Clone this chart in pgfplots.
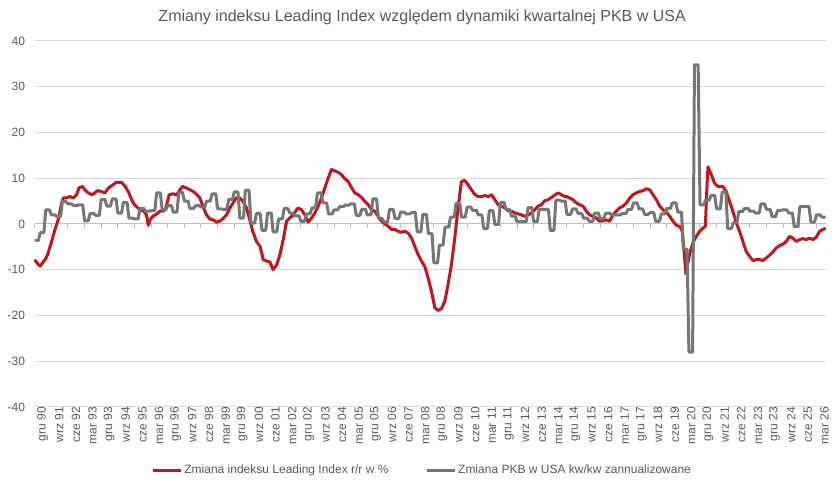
\documentclass[border=0pt]{standalone}
\usepackage{fontspec}
\setmainfont{Liberation Sans}
\usepackage{pgfplots}
\pgfplotsset{compat=1.18}
\definecolor{redline}{RGB}{192,22,28}
\definecolor{grayline}{RGB}{118,118,118}
\definecolor{txt}{RGB}{89,89,89}
\definecolor{gridc}{RGB}{217,217,217}
\definecolor{zeroc}{RGB}{191,191,191}

\pgfplotstableread{
m v
0 -7.8
2 -8.9
3 -9.2
5 -8.1
6 -7.6
7 -6.7
9 -4.1
11 -1.2
13 1.3
14.6 4.6
15.5 5.7
17 5.7
19 6.0
21 5.7
22.7 6.4
24 7.9
26 8.2
27 7.5
29 6.8
31 6.4
32.6 6.8
34 7.3
36 7.1
38 6.8
40 7.9
42.5 8.6
44 9.1
47 9.1
49 8.2
51 6.8
52.5 5.3
54 4.2
56 3.5
59 2.8
60.5 2.0
61.5 -0.3
62.4 0.9
64 1.7
66 2.2
67.8 2.8
69.6 2.8
71 3.5
72.8 6.4
75 6.6
76.8 6.3
78.6 7.5
80 8.2
82 7.9
84 7.5
85.8 7.1
87.6 6.5
89.4 5.7
91 3.9
93 2.0
94.8 1.1
96.6 0.9
98.4 0.4
100 0.6
102 1.2
103.8 2.0
105.6 3.5
107.4 4.6
109 5.7
111 5.7
112.8 4.9
114.6 3.5
116.4 0.9
118 -1.6
120 -3.8
122 -4.9
123.7 -7.8
125.5 -8.1
127.3 -8.3
129 -10.0
131 -8.9
132.7 -6.7
134.5 -3.4
136.3 0.6
138 1.3
140 2.0
141.7 3.1
142.6 3.5
144.4 3.1
146.2 2.0
148 0.4
149.8 1.3
151.6 2.4
153.4 3.9
155.2 5.7
157 7.9
158.8 10.0
160.6 11.9
162.4 11.6
164.2 11.3
166 10.8
167.8 9.9
169.6 9.3
171.5 7.9
173.2 6.8
175 6.4
176.9 5.8
178.7 4.9
180.5 4.2
182.3 3.1
184 2.8
185.9 1.7
187.7 0.6
189.5 0
191.3 -0.5
193 -1.2
194.9 -1.2
196.7 -1.6
198.5 -1.8
200.3 -1.6
202.1 -2.0
203.9 -3.1
205.7 -4.9
207.5 -6.7
209.3 -8.1
211 -9.2
212.9 -11.8
214.7 -14.7
216.5 -18.3
218.3 -18.9
220.1 -18.5
221.9 -16.9
223.7 -13.2
225.5 -8.9
227.3 -3.1
229.1 3.5
230.9 9.3
232.7 9.5
234.5 8.6
236.3 7.5
238.1 6.5
239.9 6.0
241.8 6.0
243.6 6.2
245.4 6.0
247.2 6.4
249 5.3
250.8 4.2
252.6 3.9
254.4 3.5
256.2 2.9
258 2.8
259.8 2.4
261.6 2.2
263.4 2.0
265.2 1.7
267 2.0
268.8 2.4
270.6 3.1
272.4 3.9
274.2 4.2
276 5.1
277.8 5.3
279.6 5.8
281.4 6.3
283.2 6.8
285 6.4
286.8 6.0
287.7 6.0
289.5 5.7
291.3 5.3
293.1 4.6
294.9 4.2
296.7 3.9
298.5 2.8
300.3 2.0
302.1 1.7
303.9 1.3
305.7 0.6
307.5 0.7
309.3 0.9
311.1 0.6
312.9 2.0
314.7 2.8
316.5 3.5
318.4 3.9
320.2 4.6
322 5.7
323.8 6.4
325.6 6.8
327.4 7.1
329.2 7.3
331 7.7
332.8 7.5
334.6 6.4
336.4 5.3
338.2 3.9
340 3.1
341.8 2.6
343.6 1.7
345.4 0.6
347.2 -0.3
349 -0.5
350.4 -1.6
351.7 -7.4
352.4 -10.9
354.4 -6.5
356.2 -4.1
358 -2.7
359.8 -1.6
361.6 -0.9
362.9 -0.5
363.5 5.7
364.3 12.5
366.1 10.8
367.9 8.9
369.7 8.2
372.4 8.2
374.2 7.1
376 4.9
377.8 2.8
379.7 0.2
381.4 -1.6
383.2 -3.8
385 -6.0
386.9 -7.1
388.7 -8.0
390.5 -7.8
392.3 -7.8
394.1 -8.0
395.9 -7.4
397.7 -6.8
399.5 -6.1
401.3 -5.2
403.1 -4.7
404.9 -4.4
406.7 -3.8
408.5 -2.7
410.3 -3.1
412.1 -3.8
413.9 -3.4
415.7 -3.2
417.5 -3.4
419.3 -3.1
421.1 -3.4
422.9 -2.9
424.7 -1.6
426.5 -1.2
428 -0.9
}\leading

\pgfplotstableread{
m v
0 -3.6
2 -3.6
3 -1.9
5 -1.9
6 3.1
8 3.1
9 2.0
11 2.0
12 1.6
14 1.6
15 4.9
17 4.9
18 4.4
20 4.4
21 4.0
23 4.0
24 4.2
26 4.2
27 0.7
29 0.7
30 2.3
32 2.3
33 1.9
35 1.9
36 5.4
38 5.4
39 3.9
41 3.9
42 5.5
44 5.5
45 2.4
47 2.4
48 4.7
50 4.7
51 1.3
53 1.3
54 1.1
56 1.1
57 3.4
59 3.4
60 2.8
62 2.8
63 2.9
65 2.9
66 6.8
68 6.8
69 3.1
71 3.1
72 4.0
74 4.0
75 2.6
77 2.6
78 6.9
80 6.9
81 5.0
83 5.0
84 3.4
86 3.4
87 4.0
89 4.0
90 3.7
92 3.7
93 5.0
95 5.0
96 6.6
98 6.6
99 3.3
101 3.3
102 3.2
104 3.2
105 5.4
107 5.4
108 7.0
110 7.0
111 1.3
113 1.3
114 7.4
116 7.4
117 0.2
119 0.2
120 2.3
122 2.3
123 -1.4
125 -1.4
126 2.4
128 2.4
129 -1.7
131 -1.7
132 1.1
134 1.1
135 3.4
137 3.4
138 2.4
140 2.4
141 1.8
143 1.8
144 0.6
146 0.6
147 2.2
149 2.2
150 3.5
152 3.5
153 6.8
155 6.8
156 4.6
158 4.6
159 2.2
161 2.2
162 3.1
164 3.1
165 3.8
167 3.8
168 4.1
170 4.1
171 4.4
173 4.4
174 1.9
176 1.9
177 3.2
179 3.2
180 2.0
182 2.0
183 5.5
185 5.5
186 1.2
188 1.2
189 0.4
191 0.4
192 3.2
194 3.2
195 1.2
197 1.2
198 2.6
200 2.6
201 2.2
203 2.2
204 2.5
206 2.5
207 -1.7
209 -1.7
210 2.1
212 2.1
213 -2.1
215 -2.1
216 -8.5
218 -8.5
219 -4.6
221 -4.6
222 -0.7
224 -0.7
225 1.5
227 1.5
228 4.5
230 4.5
231 1.5
233 1.5
234 3.7
236 3.7
237 3.0
239 3.0
240 2.0
242 2.0
243 -1.0
245 -1.0
246 2.9
248 2.9
249 -0.1
251 -0.1
252 4.7
254 4.7
255 3.2
257 3.2
258 1.7
260 1.7
261 0.5
263 0.5
264 0.5
266 0.5
267 3.6
269 3.6
270 0.5
272 0.5
273 3.2
275 3.2
276 3.2
278 3.2
279 -1.4
281 -1.4
282 5.2
284 5.2
285 5.0
287 5.0
288 2.1
290 2.1
291 3.3
293 3.3
294 2.3
296 2.3
297 1.3
299 1.3
300 0.6
302 0.6
303 2.4
305 2.4
306 1.2
308 1.2
309 2.4
311 2.4
312 2.0
314 2.0
315 2.0
317 2.0
318 2.3
320 2.3
321 3.2
323 3.2
324 4.6
326 4.6
327 3.3
329 3.3
330 2.1
332 2.1
333 2.5
335 2.5
336 0.6
338 0.6
339 2.2
341 2.2
342 3.4
344 3.4
345 4.6
347 4.6
348 2.6
350 2.6
351 -5.5
353 -5.5
354 -28.0
356 -28.0
357 34.8
359 34.8
360 4.2
362 4.2
363 5.2
365 5.2
366 6.2
368 6.2
369 3.3
371 3.3
372 7.0
374 7.0
375 -1.0
377 -1.0
378 0.3
380 0.3
381 2.7
383 2.7
384 3.4
386 3.4
387 2.8
389 2.8
390 2.4
392 2.4
393 4.4
395 4.4
396 3.2
398 3.2
399 1.6
401 1.6
402 3.0
404 3.0
405 3.1
407 3.1
408 2.4
410 2.4
411 -0.6
413 -0.6
414 3.8
416 3.8
417 3.8
419 3.8
420 0.4
422 0.4
423 2.0
425 2.0
426 1.5
428 1.5
}\gdp

\begin{document}
\begin{tikzpicture}
\begin{axis}[
  name=ax,
  at={(0,0)}, anchor=south west,
  scale only axis,
  width=593.25pt, height=274.5pt,
  xmin=0, xmax=428,
  ymin=-40, ymax=40,
  ytick={-40,-30,...,40},
  xtick={0,9,...,423},
  xticklabels={gru 90,wrz 91,cze 92,mar 93,gru 93,wrz 94,cze 95,mar 96,gru 96,wrz 97,cze 98,mar 99,gru 99,wrz 00,cze 01,mar 02,gru 02,wrz 03,cze 04,mar 05,gru 05,wrz 06,cze 07,mar 08,gru 08,wrz 09,cze 10,mar 11,gru 11,wrz 12,cze 13,mar 14,gru 14,wrz 15,cze 16,mar 17,gru 17,wrz 18,cze 19,mar 20,gru 20,wrz 21,cze 22,mar 23,gru 23,wrz 24,cze 25,mar 26},
  /pgf/number format/assume math mode=true,
  axis line style={draw=none},
  major tick length=0pt,
  ymajorgrids,
  major grid style={gridc, line width=0.75pt},
  tick label style={font=\fontsize{9}{10}\selectfont, text=txt},
  yticklabel style={anchor=east, inner sep=0pt, xshift=-7pt},
  xticklabel style={rotate=90, anchor=east, inner sep=0pt, yshift=-6pt},
  title={Zmiany indeksu Leading Index względem dynamiki kwartalnej PKB w USA},
  title style={font=\fontsize{12}{14}\selectfont, text=txt, at={(0.5,1)}, anchor=center, yshift=12pt, xshift=-6pt},
  legend columns=2,
  legend style={at={(0.5,0)}, anchor=center, yshift=-47.25pt, xshift=-6pt, draw=none, fill=none,
    font=\fontsize{9}{10}\selectfont, text=txt,
    nodes={inner sep=1.5pt},
    /tikz/every even column/.append style={column sep=26pt}},
  legend image code/.code={\draw[#1] (0pt,0pt) -- (21pt,0pt);},
  clip=false,
]
\draw[zeroc, line width=0.75pt] (axis cs:0,0) -- (axis cs:428,0);
\pgfplotsinvokeforeach{0,9,...,423}{
  \draw[zeroc, line width=0.75pt] (axis cs:#1,0) -- ([yshift=-3pt]axis cs:#1,0);
}
\addplot[redline, line width=2.25pt, line join=round] table[x=m, y=v] {\leading};
\addlegendentry{Zmiana indeksu Leading Index r/r w \%}
\addplot[grayline, line width=2.25pt, line join=round] table[x=m, y=v] {\gdp};
\addlegendentry{Zmiana PKB w USA kw/kw zannualizowane}
\end{axis}
\pgfresetboundingbox
\path[use as bounding box] (ax.south west) ++(-26pt,-58.5pt) rectangle ++(626.25pt,363.75pt);
\end{tikzpicture}
\end{document}
